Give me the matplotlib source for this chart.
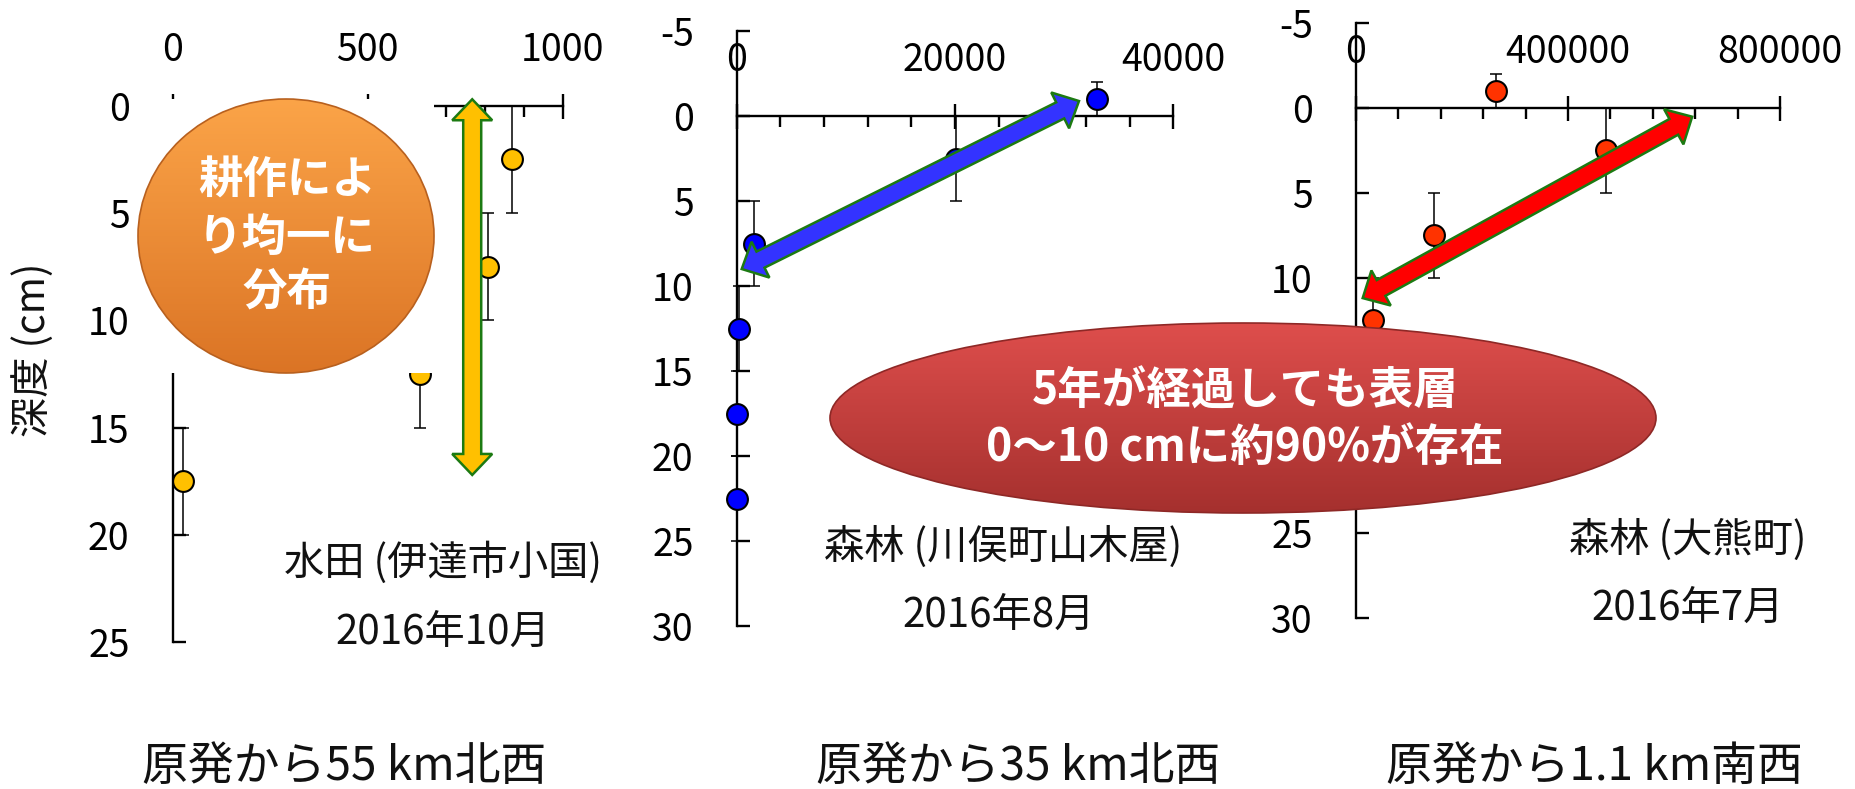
import numpy as np
import matplotlib
matplotlib.use("Agg")
import matplotlib.pyplot as plt
from matplotlib.patches import Ellipse, Rectangle, Polygon
from matplotlib.colors import LinearSegmentedColormap
from matplotlib.ticker import MultipleLocator, FuncFormatter, NullLocator

plt.rcParams['font.family'] = ['Noto Sans CJK JP', 'DejaVu Sans']

# ---- radiocaesium concentration (x) by soil depth layer (y, cm) ----
paddy_conc = [869, 809, 634, 27]
paddy_depth = [2.5, 7.5, 12.5, 17.5]
paddy_err = [2.5, 2.5, 2.5, 2.5]

kawamata_conc = [33000, 20100, 1600, 240, 60, 30]
kawamata_depth = [-1, 2.5, 7.5, 12.5, 17.5, 22.5]
kawamata_err = [1, 2.5, 2.5, 2.5, 2.5, 2.5]

okuma_conc = [265000, 472000, 147000, 31500]
okuma_depth = [-1, 2.5, 7.5, 12.5]
okuma_err = [1, 2.5, 2.5, 2.5]

site_names = ["水田 (伊達市小国)", "森林 (川俣町山木屋)", "森林 (大熊町)"]
sample_dates = ["2016年10月", "2016年8月", "2016年7月"]
distances = ["原発から55 km北西", "原発から35 km北西", "原発から1.1 km南西"]
x_max = [1000, 40000, 800000]
x_major = [500, 20000, 400000]
x_minor = [100, 4000, 80000]
depth_range = [(0, 25), (-5, 30), (-5, 30)]
covered_depth_labels = [[], [], [15, 20]]   # sit underneath the note balloon
marker_colors = ["#FFC000", "#0000FF", "#FF3300"]

# double-headed arrows marking where the caesium sits (data coords of each panel)
arrow_ends = [((768, -0.3), (768, 17.2)),
              ((458, 9.0), (31360, -0.88)),
              ((12600, 11.2), (634300, 0.53))]
arrow_colors = ["#FFC000", "#3333FF", "#FF0000"]

concs = [paddy_conc, kawamata_conc, okuma_conc]
depths = [paddy_depth, kawamata_depth, okuma_depth]
errs = [paddy_err, kawamata_err, okuma_err]

W, H, DPI = 1856, 789, 100
fig = plt.figure(figsize=(W / DPI, H / DPI), dpi=DPI)
fig.patch.set_facecolor("white")

# axes boxes in pixels: left, top, right, bottom
boxes = [(172.7, 105.7, 562.7, 642.4),
         (736.7, 31.0, 1173.3, 626.0),
         (1356.0, 22.7, 1780.0, 617.7)]
site_xy = [(443, 563), (1003, 547), (1688, 540)]
date_xy = [(443, 632), (999, 615), (1688, 608)]
dist_xy = [(344, 767), (1018, 767), (1594, 767)]

int_fmt = FuncFormatter(lambda v, p: f"{int(round(v))}")


def depth_formatter(skip):
    return FuncFormatter(lambda v, p: "" if int(round(v)) in skip else f"{int(round(v))}")


axes = []
for i in range(3):
    l, t, r, b = boxes[i]
    ax = fig.add_axes([l / W, 1 - b / H, (r - l) / W, (b - t) / H], zorder=1)
    ymin, ymax = depth_range[i]
    ax.set_xlim(0, x_max[i])
    ax.set_ylim(ymax, ymin)
    ax.patch.set_alpha(0)
    for s in ("right", "bottom"):
        ax.spines[s].set_visible(False)
    ax.spines["top"].set_position(("data", 0))
    for s in ("top", "left"):
        ax.spines[s].set_linewidth(1.7)
    ax.xaxis.set_ticks_position("top")
    ax.xaxis.set_major_locator(MultipleLocator(x_major[i]))
    ax.xaxis.set_minor_locator(MultipleLocator(x_minor[i]))
    ax.yaxis.set_major_locator(MultipleLocator(5))
    ax.yaxis.set_minor_locator(NullLocator())
    ax.xaxis.set_major_formatter(int_fmt)
    ax.yaxis.set_major_formatter(depth_formatter(covered_depth_labels[i]))
    ax.tick_params(axis="x", which="major", direction="inout", length=18,
                   width=1.7, labelsize=27, pad=17)
    ax.tick_params(axis="x", which="minor", direction="in", length=8, width=1.7)
    ax.tick_params(axis="y", which="major", direction="in", length=9.5,
                   width=1.7, labelsize=27, pad=31)

    ax.errorbar(concs[i], depths[i], yerr=errs[i], fmt="none", ecolor="black",
                elinewidth=1.1, capsize=4.5, capthick=1.1, clip_on=False, zorder=3)
    ax.plot(concs[i], depths[i], "o", ms=15, mfc=marker_colors[i], mec="black",
            mew=1.5, clip_on=False, zorder=4)
    axes.append(ax)

    fig.text(site_xy[i][0] / W, 1 - site_xy[i][1] / H, site_names[i],
             ha="center", va="center", fontsize=29, color="#111111")
    fig.text(date_xy[i][0] / W, 1 - date_xy[i][1] / H, sample_dates[i],
             ha="center", va="center", fontsize=29, color="#111111")
    fig.text(dist_xy[i][0] / W, 1 - dist_xy[i][1] / H, distances[i],
             ha="center", va="center", fontsize=33, color="#111111")

fig.text(33 / W, 1 - 350 / H, "深度 (cm)", rotation=90, ha="center", va="center",
         fontsize=29, color="#111111")

# ---- overlay in pixel coordinates (y downwards) for callouts ----
ov = fig.add_axes([0, 0, 1, 1], zorder=5)
ov.set_axis_off()
ov.patch.set_alpha(0)


def gradient_shape(patch, top_color, bottom_color, extent, edge):
    ov.add_patch(patch)
    grad = np.linspace(0, 1, 256)[:, None]
    cmap = LinearSegmentedColormap.from_list("g", [top_color, bottom_color])
    im = ov.imshow(grad, cmap=cmap, extent=extent, aspect="auto",
                   interpolation="bicubic", zorder=patch.get_zorder())
    im.set_clip_path(patch)
    ov.add_patch(Ellipse(patch.center, patch.width, patch.height, fill=False,
                         ec=edge, lw=1.2, zorder=patch.get_zorder() + 0.1))


# white backing behind the orange badge
ov.add_patch(Rectangle((138, 99), 296, 274, fc="white", ec="none", zorder=1))
badge = Ellipse((286, 236), 296, 274, fc="none", ec="none", zorder=2)
gradient_shape(badge, "#FBA448", "#DB7425", (138, 434, 373, 99), "#B8601E")
for txt, yy in zip(["耕作によ", "り均一に", "分布"], [181, 238, 292]):
    ov.text(287, yy, txt, ha="center", va="center", fontsize=32,
            fontweight="bold", color="white", zorder=3)

# red note balloon
note = Ellipse((1243, 418), 826, 190, fc="none", ec="none", zorder=2)
gradient_shape(note, "#DE4E4C", "#A5302E", (830, 1656, 513, 323), "#8E2826")
for txt, yy in zip(["5年が経過しても表層", "0～10 cmに約90%が存在"], [392, 448]):
    ov.text(1245, yy, txt, ha="center", va="center", fontsize=32,
            fontweight="bold", color="white", zorder=3)


def to_px(ax, pt):
    dx, dy = ax.transData.transform(pt)
    return np.array([dx, H - dy])


def double_arrow(p0, p1, shaft_w=18, head_w=40, head_l=21):
    d = p1 - p0
    u = d / np.hypot(*d)
    n = np.array([-u[1], u[0]])
    hs, hh = shaft_w / 2, head_w / 2
    a = p0 + u * head_l
    bb = p1 - u * head_l
    return [p0, a + n * hh, a + n * hs, bb + n * hs, bb + n * hh, p1,
            bb - n * hh, bb - n * hs, a - n * hs, a - n * hh]


for ax, (s, e), col in zip(axes, arrow_ends, arrow_colors):
    pts = double_arrow(to_px(ax, s), to_px(ax, e))
    ov.add_patch(Polygon(pts, closed=True, fc=col, ec="#1C7A12", lw=1.8,
                         joinstyle="miter", zorder=4))

ov.set_xlim(0, W)
ov.set_ylim(H, 0)

fig.savefig("out.png", dpi=DPI, facecolor="white")
